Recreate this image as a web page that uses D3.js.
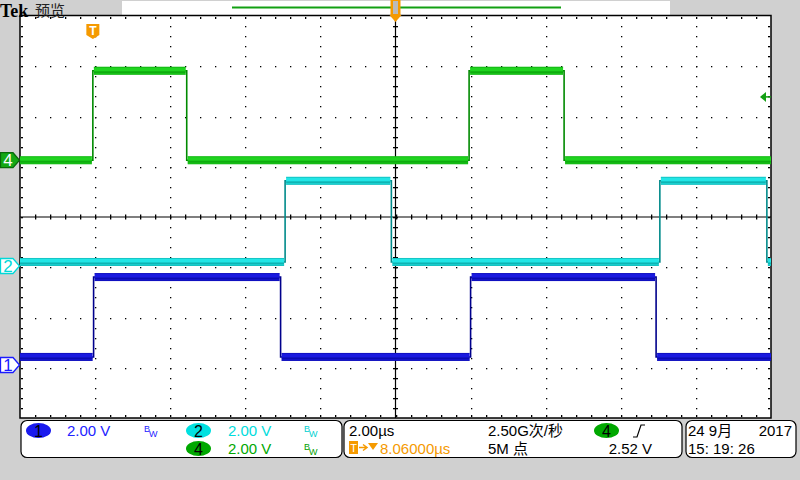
<!DOCTYPE html>
<html><head><meta charset="utf-8">
<script src="https://cdn.jsdelivr.net/npm/d3@7"></script>
<style>html,body{margin:0;padding:0;background:#d0d0d0;}svg{display:block;}</style>
</head><body>
<script>
// ---- data ----
const timeWindow = [-1.94, 18.06];          // µs, relative to trigger (10 div x 2 µs)
const voltsPerDiv = 2;
const ch1EdgeTimes = [0.02, 5.0, 10.06, 15.0];   // µs
const ch1LevelsV   = [0.32, 3.5];                // low, high (V)
const ch2EdgeTimes = [5.12, 7.95, 15.1, 17.95];
const ch2LevelsV   = [0.16, 3.39];
const ch4EdgeTimes = [0.0, 2.5, 10.02, 12.55];
const ch4LevelsV   = [0.0, 3.56];
const chNames      = ["1", "2", "4"];
const chOffsetDiv  = [-2.945, -0.975, 1.13];
const triggerLevelV = 2.52;
const statusRow1 = ["2.00 V", "2.00 V", "2.00µs", "2.50G次/秒", "2.52 V", "24 9月", "2017"];
const statusRow2 = ["2.00 V", "8.06000µs", "5M 点", "15: 19: 26"];

const W = 800, H = 480;
const L = 20, R = 771, T = 16, B = 418;
const FONT = "'Liberation Sans', 'Noto Sans CJK SC', Arial, sans-serif";
const CJK = "'Noto Sans CJK SC', sans-serif";
const svg = d3.select("body").append("svg").attr("width", W).attr("height", H);
svg.append("rect").attr("width", W).attr("height", H).attr("fill", "#d0d0d0");

const x = d3.scaleLinear().domain(timeWindow).range([L, R]);
const xDiv = d3.scaleLinear().domain([0, 10]).range([L, R]);
const yDiv = d3.scaleLinear().domain([-4, 4]).range([B, T]);

// plot area
svg.append("rect").attr("x", L).attr("y", T).attr("width", R - L).attr("height", B - T).attr("fill", "#fff");

// header
svg.append("rect").attr("x", 122).attr("y", 1).attr("width", 548).attr("height", 14).attr("fill", "#fff");
svg.append("line").attr("x1", 232).attr("x2", 561).attr("y1", 7.5).attr("y2", 7.5).attr("stroke", "#12a012").attr("stroke-width", 2);

// grid dots
const g = svg.append("g").attr("fill", "#000");
for (let i = 1; i < 10; i++) {
  if (i === 5) continue;
  for (let k = 1; k < 40; k++) g.append("rect").attr("x", Math.round(xDiv(i))).attr("y", Math.round(yDiv(-4 + k / 5))).attr("width", 1.3).attr("height", 1.3);
}
for (let j = 1; j < 8; j++) {
  if (j === 4) continue;
  for (let k = 1; k < 50; k++) g.append("rect").attr("x", Math.round(xDiv(k / 5))).attr("y", Math.round(yDiv(-4 + j))).attr("width", 1.3).attr("height", 1.3);
}
// border ticks
for (let k = 1; k < 50; k++) {
  const xx = Math.round(xDiv(k / 5));
  g.append("rect").attr("x", xx).attr("y", T + 1).attr("width", 1.3).attr("height", 2);
  g.append("rect").attr("x", xx).attr("y", B - 3).attr("width", 1.3).attr("height", 2);
}
for (let k = 1; k < 40; k++) {
  const yy = Math.round(yDiv(-4 + k / 5));
  g.append("rect").attr("x", L + 1).attr("y", yy).attr("width", 2).attr("height", 1.3);
  g.append("rect").attr("x", R - 3).attr("y", yy).attr("width", 2).attr("height", 1.3);
}
// center crosshair
const cx = xDiv(5), cy = yDiv(0);
svg.append("line").attr("x1", cx).attr("x2", cx).attr("y1", T).attr("y2", B).attr("stroke", "#000").attr("stroke-width", 1.2);
svg.append("line").attr("x1", L).attr("x2", R).attr("y1", cy).attr("y2", cy).attr("stroke", "#000").attr("stroke-width", 1.2);
for (let k = 1; k < 50; k++) g.append("rect").attr("x", Math.round(xDiv(k / 5))).attr("y", cy - 2.5).attr("width", 1.3).attr("height", 5);
for (let k = 1; k < 40; k++) g.append("rect").attr("x", cx - 2.5).attr("y", Math.round(yDiv(-4 + k / 5))).attr("width", 5).attr("height", 1.3);

// border
svg.append("rect").attr("x", L).attr("y", T - 0.5).attr("width", R - L).attr("height", B - T + 0.5).attr("fill", "none").attr("stroke", "#000").attr("stroke-width", 1.5);

// header texts (over the top border like the reference)
svg.append("text").attr("x", 0).attr("y", 16.5).attr("font-family", "'Liberation Serif', serif").attr("font-weight", "bold").attr("font-size", 18).attr("fill", "#000").text("Tek");
svg.append("text").attr("x", 35).attr("y", 16).attr("font-family", FONT).attr("font-size", 15).attr("fill", "#222").text("预览");

// waveforms
function drawChannel(edges, levels, offDiv, bright, dark) {
  const yv = v => yDiv(offDiv + v / voltsPerDiv);
  const bounds = [timeWindow[0], ...edges, timeWindow[1]];
  const gg = svg.append("g");
  const pts = [];
  for (let s = 0; s < bounds.length - 1; s++) {
    const lv = levels[s % 2];
    pts.push([x(bounds[s]), yv(lv)], [x(bounds[s + 1]), yv(lv)]);
  }
  gg.append("path").attr("d", d3.line()(pts)).attr("fill", "none").attr("stroke", dark).attr("stroke-width", 1.6);
  for (let s = 0; s < bounds.length - 1; s++) {
    const lv = levels[s % 2];
    const x0 = x(bounds[s]) + (s > 0 ? 1 : 0), x1 = x(bounds[s + 1]) - (s < bounds.length - 2 ? 1 : 0);
    const yc = yv(lv);
    gg.append("rect").attr("x", x0).attr("y", yc - 4).attr("width", x1 - x0).attr("height", 8).attr("fill", bright);
    gg.append("rect").attr("x", x0).attr("y", yc + 0.5).attr("width", x1 - x0).attr("height", 2).attr("fill", dark).attr("opacity", 0.55);
    gg.append("rect").attr("x", x0).attr("y", yc - 4).attr("width", x1 - x0).attr("height", 1).attr("fill", dark).attr("opacity", 0.35);
    gg.append("rect").attr("x", x0).attr("y", yc + 3).attr("width", x1 - x0).attr("height", 1).attr("fill", dark).attr("opacity", 0.4);
  }
}
drawChannel(ch4EdgeTimes, ch4LevelsV, chOffsetDiv[2], "#1fd41f", "#008a00");
drawChannel(ch2EdgeTimes, ch2LevelsV, chOffsetDiv[1], "#22e6e6", "#008a8a");
drawChannel(ch1EdgeTimes, ch1LevelsV, chOffsetDiv[0], "#1a1ae0", "#00008c");

// channel markers on the left
const markerCols = [["#fff", "#1a1aff", "#1a1aff"], ["#fff", "#00d8d8", "#00d8d8"], ["#14a814", "#0a6a0a", "#fff"]];
chNames.forEach((n, i) => {
  const yc = yDiv(chOffsetDiv[i]);
  const [fill, stroke, tc] = markerCols[i];
  svg.append("path").attr("d", `M0.5,${yc - 7.5}H13L19.5,${yc}L13,${yc + 7.5}H0.5Z`).attr("fill", fill).attr("stroke", stroke).attr("stroke-width", 1.3);
  svg.append("text").attr("x", 8).attr("y", yc + 6).attr("text-anchor", "middle").attr("font-family", FONT).attr("font-size", 17).attr("fill", tc).text(n);
});

// trigger level arrow on the right (ch4)
const ty = yDiv(chOffsetDiv[2] + triggerLevelV / voltsPerDiv);
svg.append("path").attr("d", `M760,${ty}L766,${ty - 5}V${ty + 5}Z`).attr("fill", "#14a014");
svg.append("line").attr("x1", 764).attr("x2", R).attr("y1", ty).attr("y2", ty).attr("stroke", "#14a014").attr("stroke-width", 1.5);

// trigger markers (orange)
const OR = "#f59a00";
const tx = x(0);
svg.append("path").attr("d", `M${tx - 6.5},24H${tx + 6.5}V35L${tx},39L${tx - 6.5},35Z`).attr("fill", OR);
svg.append("text").attr("x", tx).attr("y", 35).attr("text-anchor", "middle").attr("font-family", FONT).attr("font-weight", "bold").attr("font-size", 12).attr("fill", "#fff").text("T");
svg.append("rect").attr("x", cx - 5).attr("y", 0).attr("width", 10).attr("height", 15).attr("fill", OR);
svg.append("rect").attr("x", cx - 2.5).attr("y", 1).attr("width", 5).attr("height", 13).attr("fill", "#bbb");
svg.append("path").attr("d", `M${cx - 6},15H${cx + 6}L${cx},22Z`).attr("fill", OR);

// status boxes
const boxes = [[21, 321], [344, 338], [686, 110]];
boxes.forEach(([bx, bw]) => svg.append("rect").attr("x", bx).attr("y", 420.5).attr("width", bw).attr("height", 37).attr("rx", 6).attr("fill", "#fff").attr("stroke", "#000").attr("stroke-width", 1.2));

function pill(cxp, cyp, fill, label) {
  svg.append("ellipse").attr("cx", cxp).attr("cy", cyp).attr("rx", 12.5).attr("ry", 7.5).attr("fill", fill);
  svg.append("text").attr("x", cxp).attr("y", cyp + 6).attr("text-anchor", "middle").attr("font-family", FONT).attr("font-size", 16).attr("fill", "#000").text(label);
}
function txt(xp, yp, s, col, anchor, fam, size) {
  svg.append("text").attr("x", xp).attr("y", yp).attr("text-anchor", anchor || "start").attr("font-family", fam || FONT).attr("font-size", size || 15).attr("fill", col).text(s);
}
function bw(xp, yp, col) {
  const t = svg.append("text").attr("x", xp).attr("y", yp - 4).attr("font-family", FONT).attr("font-size", 9).attr("fill", col);
  t.append("tspan").text("B");
  t.append("tspan").attr("dx", -1).attr("dy", 5).text("W");
}
const R1 = 436, R2 = 454;
pill(38.5, 430.5, "#1a1aee", chNames[0]);
txt(67, R1, statusRow1[0], "#2222ff");
bw(144, R1, "#2222ff");
pill(198.5, 430.5, "#00e0e0", chNames[1]);
txt(228, R1, statusRow1[1], "#00dcdc");
bw(304, R1, "#00d0d0");
pill(198.5, 448.5, "#00a800", chNames[2]);
txt(228, R2, statusRow2[0], "#00a800");
bw(304, R2, "#00a000");

txt(349, R1, statusRow1[2], "#000");
txt(488, R1, statusRow1[3], "#000", "start", FONT, 15);
pill(606.5, 430.5, "#00a800", chNames[2]);
svg.append("path").attr("d", "M633,437H637L641,425H645").attr("fill", "none").attr("stroke", "#000").attr("stroke-width", 1.2);
txt(652, R2, statusRow1[4], "#000", "end");
// trigger delay row
svg.append("rect").attr("x", 349).attr("y", 441).attr("width", 9).attr("height", 13).attr("fill", OR);
txt(353.5, 452, "T", "#fff", "middle", FONT, 11);
svg.append("path").attr("d", "M359,447.5H366M363,444.5L367,447.5L363,450.5").attr("fill", "none").attr("stroke", OR).attr("stroke-width", 1.5);
svg.append("path").attr("d", "M368,443H378L373,450Z").attr("fill", OR);
txt(380, R2, statusRow2[1], OR);
txt(488, R2, statusRow2[2], "#000", "start", FONT, 15);

txt(688, R1, statusRow1[5], "#000", "start", FONT, 15);
txt(792, R1, statusRow1[6], "#000", "end");
txt(688, R2, statusRow2[3], "#000");
</script>
</body></html>
